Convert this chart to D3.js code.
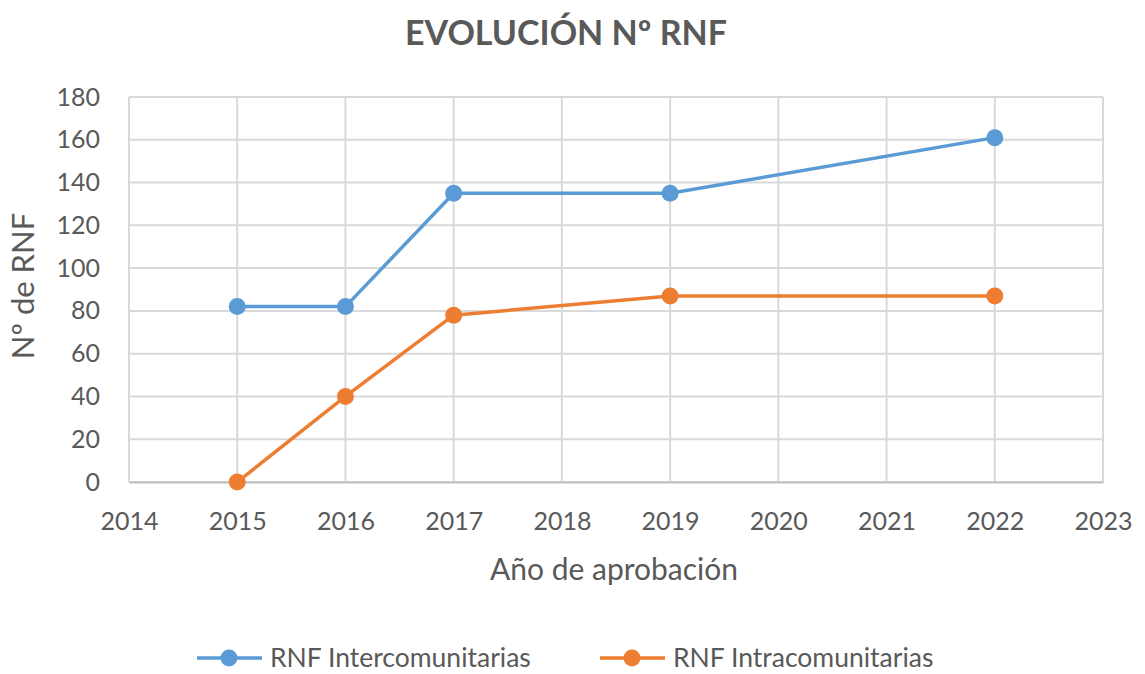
<!DOCTYPE html>
<html><head><meta charset="utf-8">
<script src="https://cdn.jsdelivr.net/npm/d3@7"></script>
<style>body{margin:0;background:#fff;}svg{display:block;font-family:Lato,"Open Sans",sans-serif;}</style>
</head><body>
<svg id="c" width="1145" height="674"></svg>
<script>
const years = [2015, 2016, 2017, 2019, 2022];
const interValues = [82, 82, 135, 135, 161];
const intraValues = [0, 40, 78, 87, 87];
const xTicks = [2014,2015,2016,2017,2018,2019,2020,2021,2022,2023];
const yTicks = [0,20,40,60,80,100,120,140,160,180];
const seriesNames = ["RNF Intercomunitarias","RNF Intracomunitarias"];
const colors = ["#5b9bd5","#ed7d31"];

const svg = d3.select("#c");
const m = {l:129, r:1103, t:97, b:482};
const x = d3.scaleLinear().domain([2014,2023]).range([m.l,m.r]);
const y = d3.scaleLinear().domain([0,180]).range([m.b,m.t]);
const txt = "#595959", grid = "#d9d9d9";

// gridlines
svg.append("g").selectAll("line").data(yTicks).join("line")
  .attr("x1",m.l).attr("x2",m.r).attr("y1",d=>y(d)).attr("y2",d=>y(d))
  .attr("stroke",grid).attr("stroke-width",2);
svg.append("g").selectAll("line").data(xTicks).join("line")
  .attr("y1",m.t).attr("y2",m.b).attr("x1",d=>x(d)).attr("x2",d=>x(d))
  .attr("stroke",grid).attr("stroke-width",2);

// axes
const xa = svg.append("g").attr("transform",`translate(0,${m.b})`)
  .call(d3.axisBottom(x).tickValues(xTicks).tickFormat(d3.format("d")).tickSize(0).tickPadding(30));
xa.select(".domain").attr("stroke","#bfbfbf").attr("stroke-width",2);
xa.selectAll("text").attr("fill",txt).attr("font-size",25).style("font-family","Lato,sans-serif");
const ya = svg.append("g").attr("transform",`translate(${m.l},0)`)
  .call(d3.axisLeft(y).tickValues(yTicks).tickSize(0).tickPadding(29));
ya.select(".domain").remove();
ya.selectAll("text").attr("fill",txt).attr("font-size",25).style("font-family","Lato,sans-serif");

// lines
const data = [interValues, intraValues];
const line = d3.line().x((d,i)=>x(years[i])).y(d=>y(d));
data.forEach((vals,k)=>{
  svg.append("path").datum(vals).attr("d",line).attr("fill","none")
    .attr("stroke",colors[k]).attr("stroke-width",3.5).attr("stroke-linejoin","round");
  svg.append("g").selectAll("circle").data(vals).join("circle")
    .attr("cx",(d,i)=>x(years[i])).attr("cy",d=>y(d)).attr("r",8.5).attr("fill",colors[k]);
});

// title
svg.append("text").attr("x",566).attr("y",45).attr("text-anchor","middle")
  .attr("font-size",34).attr("font-weight","bold").attr("fill",txt).text("EVOLUCIÓN Nº RNF");
// axis titles
svg.append("text").attr("x",614).attr("y",580).attr("text-anchor","middle")
  .attr("font-size",30).attr("fill",txt).text("Año de aprobación");
svg.append("text").attr("transform","translate(34,286) rotate(-90)").attr("text-anchor","middle")
  .attr("font-size",31).attr("fill",txt).text("Nº de RNF");

// legend
const leg = [{x:197},{x:600}];
leg.forEach((l,k)=>{
  const g = svg.append("g").attr("transform",`translate(${l.x},658)`);
  g.append("line").attr("x1",0).attr("x2",65).attr("stroke",colors[k]).attr("stroke-width",3.5);
  g.append("circle").attr("cx",32).attr("r",8.5).attr("fill",colors[k]);
  g.append("text").attr("x",73).attr("y",9).attr("font-size",26.5).attr("fill",txt).text(seriesNames[k]);
});
</script>
</body></html>
